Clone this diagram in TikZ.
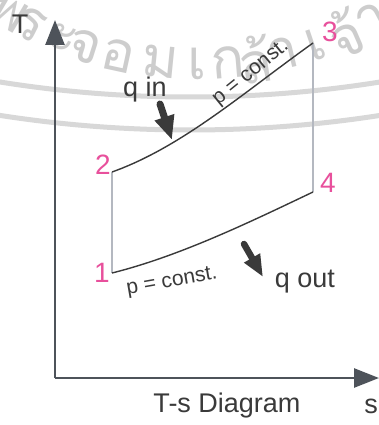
\documentclass[tikz,border=0pt]{standalone}
\usepackage{fontspec}
\setmainfont{Liberation Sans}
\newfontfamily\thaifont[Script=Thai]{Loma}
\usetikzlibrary{arrows.meta}
\definecolor{pinknum}{HTML}{E8509C}
\definecolor{axiscol}{HTML}{4E535A}
\definecolor{curvecol}{HTML}{3A3A3A}
\definecolor{isocol}{HTML}{B4B8C0}
\definecolor{txtcol}{HTML}{3A3A3A}
\definecolor{wmcol}{HTML}{CDCDCD}
\definecolor{bandcol}{HTML}{D8D8D8}
\begin{document}
\begin{tikzpicture}[x=1pt,y=-1pt,
  numlabel/.style={text=pinknum,font=\fontsize{28}{30}\selectfont,inner sep=0pt},
  txtlabel/.style={text=txtcol,font=\fontsize{27}{30}\selectfont,inner sep=0pt},
  plabel/.style={text=txtcol,font=\fontsize{21}{24}\selectfont,inner sep=0pt},
  axis/.style={draw=axiscol,line width=2.6pt,-{Triangle[length=25pt,width=19pt]}},
  isobar/.style={draw=curvecol,line width=1.4pt},
  vert/.style={draw=isocol,line width=1.6pt},
  heat/.style={draw=curvecol,line width=7pt,line cap=round,-{Triangle[length=24pt,width=19pt]}},
  wmtext/.style={text=wmcol,font=\thaifont\fontsize{56}{60}\selectfont,inner sep=0pt},
  band/.style={draw=bandcol,line width=5pt}]
\useasboundingbox (0,0) rectangle (379,425);
\clip (0,0) rectangle (379,425);
\fill[white] (0,0) rectangle (379,425);
% watermark
\draw[band] (190,-1100) circle[radius=1197];
\draw[band] (190,-1100) circle[radius=1230];
\foreach \ch/\ang [count=\i] in {พ/-30.6, ร/-26.8, ะ/-21.3, จ/-17.6, อ/-12.3, ม/-5.7, เ/0, ก/4.8, ล้/9.0, า/13.4, เ/18.7, จ้/23.5, า/28.2}
  \node[wmtext, rotate=\ang, name=wm\i] at ([shift={(197,-307)}] {90-\ang}:371) {\ch};
% axes
\coordinate (O) at (55,378);
\coordinate (Ttip) at (55,20);
\coordinate (stip) at (379,378);
\draw[axis] (O) -- (Ttip);
\draw[axis] (O) -- (stip);
\node[txtlabel] (Tlab) at (20,24) {T};
\node[txtlabel] (slab) at (371,406) {s};
\node[txtlabel] (title) at (227,406) {T-s Diagram};
% cycle points
\coordinate (p1) at (112,273);
\coordinate (p2) at (112,172);
\coordinate (p3) at (313,43);
\coordinate (p4) at (313,192);
\draw[vert] (p1) -- (p2);
\draw[vert] (p3) -- (p4);
\draw[isobar] (p2) .. controls (182,147) and (243,93) .. (p3);
\draw[isobar] (p1) .. controls (180,256) and (250,222) .. (p4);
\node[numlabel] (n1) at (102,273) {1};
\node[numlabel] (n2) at (103,165) {2};
\node[numlabel] (n3) at (330,32) {3};
\node[numlabel] (n4) at (328,183) {4};
\node[plabel, rotate=39] (pc1) at (251,73) {p = const.};
\node[plabel, rotate=10] (pc2) at (172,282) {p = const.};
% heat arrows
\node[txtlabel] (qin) at (145,90) {q in};
\node[txtlabel] (qout) at (305,282) {q out};
\coordinate (qinA) at (160,104);
\coordinate (qinB) at (172,140);
\coordinate (qoutA) at (244,244);
\coordinate (qoutB) at (263,277);
\draw[heat] (qinA) -- (qinB);
\draw[heat,line width=6.5pt,-{Triangle[length=22pt,width=17pt]}] (qoutA) -- (qoutB);
\end{tikzpicture}
\end{document}
